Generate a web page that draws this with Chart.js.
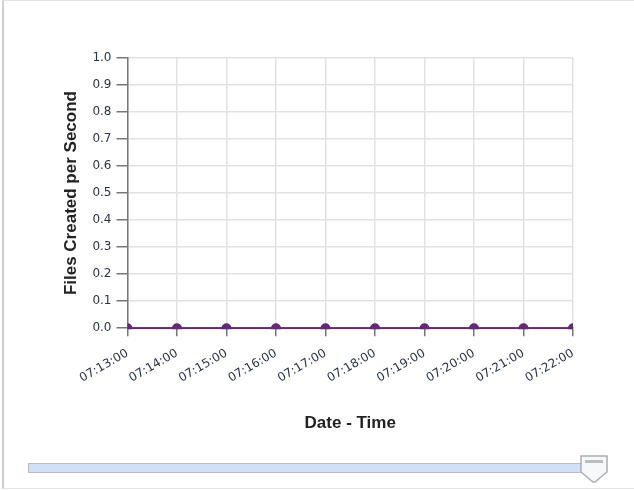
<!DOCTYPE html>
<html>
<head>
<meta charset="utf-8">
<script src="https://cdn.jsdelivr.net/npm/chart.js@4"></script>
<style>
    body { margin: 0; background: #fff; }
    #frame {
        position: absolute; left: 2px; top: 0; width: 640px; height: 487px;
        border-left: 2px solid #cfcfd3; border-top: 1px solid #e4e4e8; border-bottom: 1px solid #e4e4e8;
    }
    #chartBox { position: absolute; left: 0; top: 0; width: 634px; height: 440px; }
    #track {
        position: absolute; left: 28px; top: 463px; width: 574px; height: 8px;
        background: #cfe1f7; border: 1px solid #b7bcc4;
    }
    #thumb { position: absolute; left: 580px; top: 455px; width: 28px; height: 28px; }
</style>
</head>
<body>
<div id="frame"></div>
<div id="chartBox"><canvas id="filesChart"></canvas></div>
<div id="track"></div>
<svg id="thumb" viewBox="0 0 28 28">
    <path d="M1 1 H27 V17 L15 27 L13 27 L1 17 Z" fill="#f7f8fa" stroke="#a9aeb5" stroke-width="1.5"/>
    <rect x="5" y="5" width="18" height="3" fill="#b9bdc4"/>
</svg>
<script>
const timeLabels = ['07:13:00', '07:14:00', '07:15:00', '07:16:00', '07:17:00',
                    '07:18:00', '07:19:00', '07:20:00', '07:21:00', '07:22:00'];
const filesPerSecond = [0, 0, 0, 0, 0, 0, 0, 0, 0, 0];
const yMin = 0;
const yMax = 1;
const yStep = 0.1;

document.addEventListener('DOMContentLoaded', () => {
    const ctx = document.getElementById('filesChart').getContext('2d');
    const purple = '#632876';

    new Chart(ctx, {
        type: 'line',
        data: {
            labels: timeLabels,
            datasets: [{
                data: filesPerSecond,
                borderColor: purple,
                backgroundColor: purple,
                borderWidth: 2,
                pointRadius: 5,
                pointHoverRadius: 5,
                pointBackgroundColor: purple,
                pointBorderWidth: 0,
                clip: { left: 0, top: 0, right: 0, bottom: 1 }
            }]
        },
        options: {
            responsive: true,
            maintainAspectRatio: false,
            animation: false,
            layout: { padding: { left: 57, right: 61, top: 58, bottom: 2 } },
            plugins: {
                legend: { display: false },
                tooltip: { enabled: false }
            },
            scales: {
                x: {
                    grid: { color: '#e2e2e2', lineWidth: 1.5, tickColor: '#777', tickLength: 8 },
                    border: { color: '#777', width: 1.5 },
                    ticks: {
                        color: '#2b3445',
                        font: { family: 'DejaVu Sans', size: 12 },
                        maxRotation: 30,
                        minRotation: 30,
                        padding: 10
                    },
                    title: {
                        display: true,
                        text: 'Date - Time',
                        color: '#222',
                        font: { family: 'Liberation Sans', size: 17, weight: 'bold' },
                        padding: { top: 18, bottom: 4 }
                    }
                },
                y: {
                    min: yMin,
                    max: yMax,
                    grid: { color: '#e2e2e2', lineWidth: 1.5, tickColor: '#777', tickLength: 11 },
                    border: { color: '#777', width: 1.5 },
                    ticks: {
                        stepSize: yStep,
                        color: '#2b3445',
                        font: { family: 'DejaVu Sans', size: 12 },
                        padding: 5,
                        callback: value => value.toFixed(1)
                    },
                    title: {
                        display: true,
                        text: 'Files Created per Second',
                        color: '#222',
                        font: { family: 'Liberation Sans', size: 17, weight: 'bold' },
                        padding: { top: 4, bottom: 6 }
                    }
                }
            }
        }
    });
});
</script>
</body>
</html>
